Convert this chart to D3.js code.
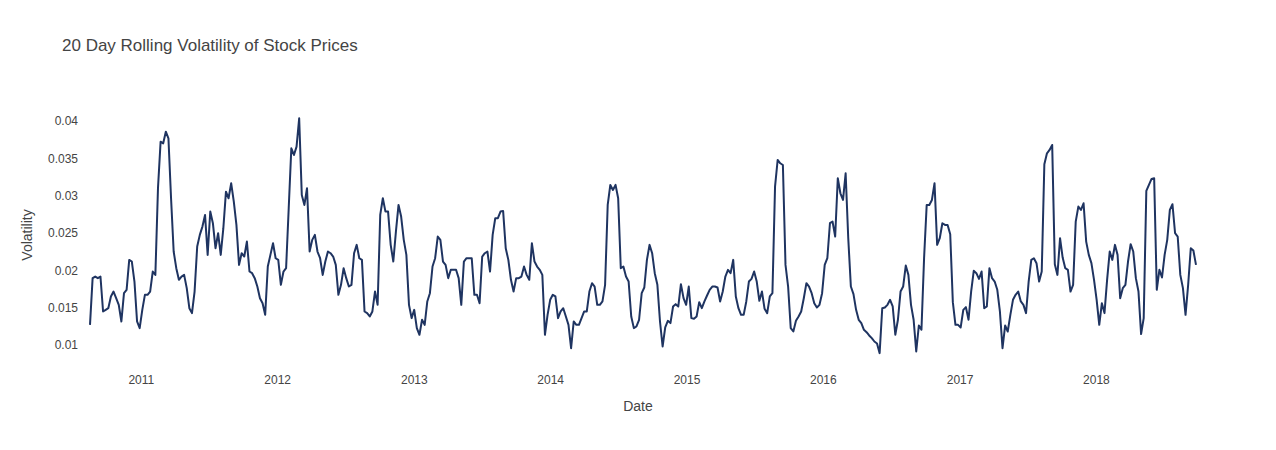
<!DOCTYPE html>
<html>
<head>
<meta charset="utf-8">
<script src="https://cdn.jsdelivr.net/npm/d3@7"></script>
<style>
  html, body { margin: 0; padding: 0; background: #fff; }
  svg { display: block; font-family: "Liberation Sans", Arial, sans-serif; }
</style>
</head>
<body>
<svg id="chart" width="1276" height="450"></svg>
<script>
// Weekly samples of the 20-day rolling volatility, starting 2010-08-18
const startDate = new Date(2010, 7, 18);

const vol2010 = [0.0127, 0.01895, 0.01917, 0.01895, 0.01917, 0.01449, 0.01471, 0.01493, 0.0165, 0.01716,
  0.01627, 0.01538, 0.01315, 0.01694, 0.01739, 0.0214, 0.02118, 0.0185, 0.01315, 0.01226];

const vol2011 = [0.01471, 0.01672, 0.01672, 0.01716, 0.01984, 0.01939, 0.03099, 0.03723, 0.03701, 0.03857,
  0.03768, 0.02965, 0.02252, 0.02029, 0.01873, 0.01917, 0.01939, 0.01761, 0.01493,
  0.01427, 0.01716, 0.02319, 0.02475, 0.02586, 0.02742, 0.02207, 0.02787, 0.02631, 0.02296, 0.02497,
  0.02207, 0.02564, 0.03054, 0.02965, 0.03166, 0.02921, 0.02608, 0.02073, 0.02229, 0.02185, 0.02385,
  0.01984, 0.01962, 0.01895, 0.01783, 0.01627, 0.0156, 0.01404, 0.02051, 0.02207, 0.02363, 0.02162];

const vol2012 = [0.0214, 0.01806, 0.01984, 0.02029, 0.02831, 0.03634,
  0.03545, 0.03657, 0.04036, 0.0301, 0.02876, 0.03099, 0.02252, 0.02408, 0.02475, 0.02252, 0.02162,
  0.01939, 0.02118, 0.02252, 0.02229, 0.02185, 0.02073, 0.01672, 0.01806, 0.02029, 0.01895, 0.01783,
  0.01806, 0.02229, 0.02341, 0.02162, 0.0214, 0.01449, 0.01427, 0.01382, 0.01449, 0.01716, 0.01538,
  0.02742, 0.02965, 0.02787, 0.02787, 0.02341, 0.02118,
  0.02519, 0.02876, 0.0272, 0.02408, 0.02207, 0.01538, 0.0136];

const vol2013 = [0.01471, 0.01226, 0.01137, 0.01338, 0.0127, 0.01583, 0.01694, 0.02051, 0.02162, 0.02453,
  0.02408, 0.02118, 0.02073, 0.01895, 0.02007, 0.02007, 0.02007, 0.01895, 0.01538, 0.02118, 0.02162,
  0.02162, 0.02162, 0.01672, 0.01672, 0.0156, 0.02185, 0.02229, 0.02252, 0.01984, 0.02475, 0.02698,
  0.02698, 0.02787, 0.02796, 0.02296, 0.0214, 0.01873, 0.01716, 0.01895, 0.01895, 0.01917, 0.02051,
  0.01939, 0.01873, 0.02363, 0.02118, 0.02051, 0.02007, 0.01939, 0.01137, 0.01404];

const vol2014 = [0.01605, 0.01672, 0.0165, 0.0136, 0.01449, 0.01493, 0.01382, 0.0127, 0.00958, 0.01315,
  0.0127, 0.0127, 0.0136, 0.01449, 0.01449, 0.01716, 0.01828, 0.01783, 0.01538,
  0.01538, 0.01583, 0.01806, 0.02876, 0.03144, 0.03077, 0.03144, 0.02965, 0.02029, 0.02051, 0.01917,
  0.0185, 0.01382, 0.01226, 0.01248, 0.01338, 0.01694, 0.0177, 0.0214, 0.02341, 0.02229, 0.01962,
  0.01806, 0.01315, 0.0098, 0.01235, 0.01324, 0.01293, 0.01516, 0.01547, 0.01516, 0.01815, 0.01627, 0.01538];

const vol2015 = [0.01783, 0.0136, 0.01351, 0.01382, 0.01574,
  0.01493, 0.01583, 0.01663, 0.01739, 0.01783, 0.01783, 0.0177, 0.01583, 0.01716, 0.01917, 0.02007,
  0.01962, 0.0214, 0.0165, 0.01493, 0.01404, 0.01404, 0.01583, 0.0185, 0.01886, 0.01984, 0.0185,
  0.01592, 0.01716, 0.01485, 0.01427, 0.0165, 0.01694, 0.03121, 0.03478, 0.03434, 0.03411, 0.02073,
  0.01783, 0.01226, 0.01181, 0.01324, 0.01382, 0.01449,
  0.01627, 0.01828, 0.01783, 0.01694, 0.0156, 0.01502, 0.01538, 0.01694];

const vol2016 = [0.02073, 0.02162, 0.02631, 0.02653, 0.02453, 0.03233, 0.03032, 0.02943, 0.033, 0.0243,
  0.01783, 0.01681, 0.01471, 0.01338, 0.01293, 0.01204, 0.01172, 0.01128, 0.01092, 0.01047, 0.01021,
  0.00891, 0.01493, 0.01502, 0.01538, 0.01605, 0.01516, 0.01137, 0.01338, 0.01716, 0.01783,
  0.02064, 0.01939, 0.01538, 0.01338, 0.00914, 0.01261, 0.01204, 0.02162, 0.02876, 0.02876, 0.02943,
  0.03166, 0.02341, 0.0243, 0.02631, 0.02608, 0.02608, 0.02484, 0.01574, 0.0127, 0.0127];

const vol2017 = [0.01235, 0.01471, 0.01507, 0.01338, 0.01716, 0.01993, 0.01962, 0.01886, 0.01984, 0.01493,
  0.01516, 0.02029, 0.01895, 0.0185, 0.01739, 0.01449, 0.00958, 0.01261,
  0.01181, 0.01404, 0.01605, 0.01672, 0.01716, 0.01583, 0.01538, 0.01427, 0.0185, 0.0214, 0.02162,
  0.02096, 0.0185, 0.01984, 0.0342, 0.03567, 0.03612, 0.03679, 0.02082, 0.01939, 0.0243, 0.02171,
  0.02029, 0.02007, 0.01716, 0.01806, 0.02653, 0.02854, 0.02809, 0.02898, 0.02385, 0.02207, 0.02096, 0.01873];

const vol2018 = [0.01605, 0.0127, 0.0156, 0.01427, 0.01873,
  0.02252, 0.0214, 0.02341, 0.02207, 0.01627, 0.01761, 0.01806, 0.02118, 0.0235, 0.02252, 0.01895,
  0.01716, 0.01146, 0.0136, 0.03063, 0.03144, 0.03224, 0.03233, 0.01739, 0.02007, 0.01904, 0.02207,
  0.02408, 0.02809, 0.02885, 0.02497, 0.02453, 0.01939, 0.01761, 0.01404, 0.01806, 0.02296, 0.02265, 0.02073];

const yTickValues = [0.01, 0.015, 0.02, 0.025, 0.03, 0.035, 0.04];
const yTickLabels = ["0.01", "0.015", "0.02", "0.025", "0.03", "0.035", "0.04"];
const xTickYears = [2011, 2012, 2013, 2014, 2015, 2016, 2017, 2018];

const titleText = "20 Day Rolling Volatility of Stock Prices";
const xTitle = "Date";
const yTitle = "Volatility";

// ---------------------------------------------------------------
const volatility = [].concat(vol2010, vol2011, vol2012, vol2013, vol2014,
  vol2015, vol2016, vol2017, vol2018);
const data = volatility.map((v, i) => ({ date: d3.timeDay.offset(startDate, 7 * i), value: v }));

const svg = d3.select("#chart");
const textColor = "#444";

const x = d3.scaleTime()
  .domain(d3.extent(data, d => d.date))
  .range([90, 1196]);

const y = d3.scaleLinear()
  .domain([0.01, 0.04])
  .range([345, 121]);

// title
svg.append("text")
  .attr("x", 62).attr("y", 51)
  .attr("font-size", 17)
  .attr("fill", textColor)
  .text(titleText);

// y axis
const yAxis = svg.append("g")
  .attr("transform", "translate(80,0)")
  .call(d3.axisLeft(y).tickValues(yTickValues)
    .tickFormat((d, i) => yTickLabels[i]).tickSize(0).tickPadding(2));
yAxis.select(".domain").remove();
yAxis.selectAll("text").attr("font-size", 12).attr("fill", textColor)
  .attr("font-family", "Liberation Sans, Arial, sans-serif");

// x axis
const xAxis = svg.append("g")
  .attr("transform", "translate(0,370)")
  .call(d3.axisBottom(x).tickValues(xTickYears.map(yr => new Date(yr, 0, 1)))
    .tickFormat(d3.timeFormat("%Y")).tickSize(0).tickPadding(5));
xAxis.select(".domain").remove();
xAxis.selectAll("text").attr("font-size", 12).attr("fill", textColor)
  .attr("font-family", "Liberation Sans, Arial, sans-serif");

// axis titles
svg.append("text")
  .attr("x", 638).attr("y", 411)
  .attr("text-anchor", "middle")
  .attr("font-size", 14).attr("fill", textColor)
  .text(xTitle);

svg.append("text")
  .attr("transform", "translate(32,235) rotate(-90)")
  .attr("text-anchor", "middle")
  .attr("font-size", 14).attr("fill", textColor)
  .text(yTitle);

// line
const line = d3.line()
  .x(d => x(d.date))
  .y(d => y(d.value));

svg.append("path")
  .datum(data)
  .attr("fill", "none")
  .attr("stroke", "#1f3461")
  .attr("stroke-width", 2)
  .attr("stroke-linejoin", "round")
  .attr("d", line);
</script>
</body>
</html>
